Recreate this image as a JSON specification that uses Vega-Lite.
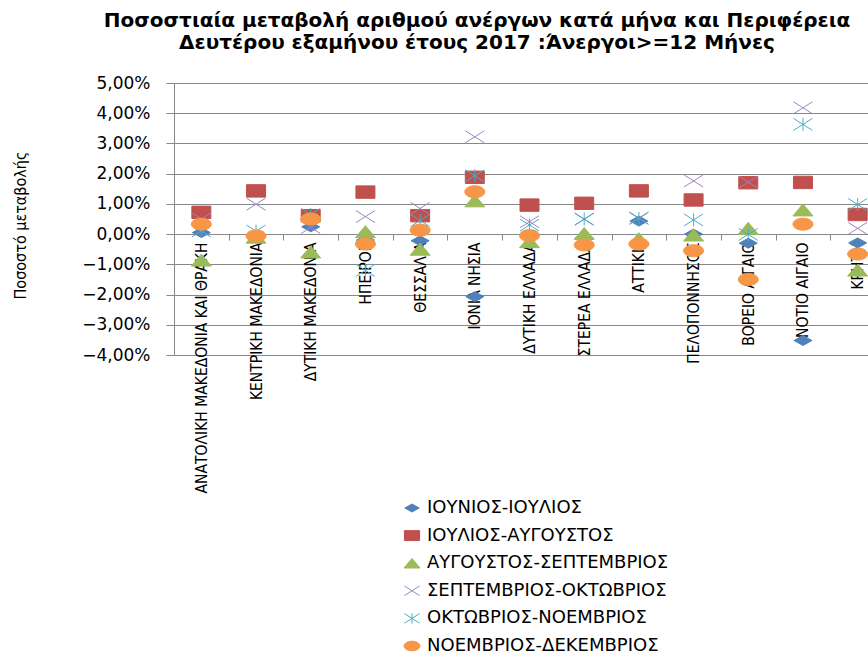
{
  "$schema": "https://vega.github.io/schema/vega-lite/v6.json",
  "autosize": "none",
  "padding": {"left": 174, "top": 83, "right": 0, "bottom": 300},
  "width": 694,
  "height": 272,
  "background": "white",
  "title": {
    "text": ["Ποσοστιαία μεταβολή αριθμού ανέργων κατά μήνα και Περιφέρεια", "Δευτέρου εξαμήνου έτους 2017 :Άνεργοι>=12 Μήνες"],
    "anchor": "middle",
    "frame": "group",
    "dx": -44,
    "dy": 9,
    "offset": 30,
    "font": "DejaVu Sans",
    "fontSize": 20,
    "fontWeight": "bold",
    "lineHeight": 22,
    "color": "black"
  },
  "data": {
    "values": [
      {"r": "ΑΝΑΤΟΛΙΚΗ ΜΑΚΕΔΟΝΙΑ ΚΑΙ ΘΡΑΚΗ", "s": "ΙΟΥΝΙΟΣ-ΙΟΥΛΙΟΣ", "v": 0.0005},
      {"r": "ΚΕΝΤΡΙΚΗ ΜΑΚΕΔΟΝΙΑ", "s": "ΙΟΥΝΙΟΣ-ΙΟΥΛΙΟΣ", "v": -0.0005},
      {"r": "ΔΥΤΙΚΗ ΜΑΚΕΔΟΝΙΑ", "s": "ΙΟΥΝΙΟΣ-ΙΟΥΛΙΟΣ", "v": 0.0024},
      {"r": "ΗΠΕΙΡΟΣ", "s": "ΙΟΥΝΙΟΣ-ΙΟΥΛΙΟΣ", "v": -0.0020},
      {"r": "ΘΕΣΣΑΛΙΑ", "s": "ΙΟΥΝΙΟΣ-ΙΟΥΛΙΟΣ", "v": -0.0022},
      {"r": "ΙΟΝΙΑ ΝΗΣΙΑ", "s": "ΙΟΥΝΙΟΣ-ΙΟΥΛΙΟΣ", "v": -0.0207},
      {"r": "ΔΥΤΙΚΗ ΕΛΛΑΔΑ", "s": "ΙΟΥΝΙΟΣ-ΙΟΥΛΙΟΣ", "v": -0.0010},
      {"r": "ΣΤΕΡΕΑ ΕΛΛΑΔΑ", "s": "ΙΟΥΝΙΟΣ-ΙΟΥΛΙΟΣ", "v": -0.0012},
      {"r": "ΑΤΤΙΚΗ", "s": "ΙΟΥΝΙΟΣ-ΙΟΥΛΙΟΣ", "v": 0.0043},
      {"r": "ΠΕΛΟΠΟΝΝΗΣΟΣ", "s": "ΙΟΥΝΙΟΣ-ΙΟΥΛΙΟΣ", "v": 0.0000},
      {"r": "ΒΟΡΕΙΟ ΑΙΓΑΙΟ", "s": "ΙΟΥΝΙΟΣ-ΙΟΥΛΙΟΣ", "v": -0.0030},
      {"r": "ΝΟΤΙΟ ΑΙΓΑΙΟ", "s": "ΙΟΥΝΙΟΣ-ΙΟΥΛΙΟΣ", "v": -0.0352},
      {"r": "ΚΡΗΤΗ", "s": "ΙΟΥΝΙΟΣ-ΙΟΥΛΙΟΣ", "v": -0.0029},

      {"r": "ΑΝΑΤΟΛΙΚΗ ΜΑΚΕΔΟΝΙΑ ΚΑΙ ΘΡΑΚΗ", "s": "ΙΟΥΛΙΟΣ-ΑΥΓΟΥΣΤΟΣ", "v": 0.0072},
      {"r": "ΚΕΝΤΡΙΚΗ ΜΑΚΕΔΟΝΙΑ", "s": "ΙΟΥΛΙΟΣ-ΑΥΓΟΥΣΤΟΣ", "v": 0.0143},
      {"r": "ΔΥΤΙΚΗ ΜΑΚΕΔΟΝΙΑ", "s": "ΙΟΥΛΙΟΣ-ΑΥΓΟΥΣΤΟΣ", "v": 0.0061},
      {"r": "ΗΠΕΙΡΟΣ", "s": "ΙΟΥΛΙΟΣ-ΑΥΓΟΥΣΤΟΣ", "v": 0.0139},
      {"r": "ΘΕΣΣΑΛΙΑ", "s": "ΙΟΥΛΙΟΣ-ΑΥΓΟΥΣΤΟΣ", "v": 0.0061},
      {"r": "ΙΟΝΙΑ ΝΗΣΙΑ", "s": "ΙΟΥΛΙΟΣ-ΑΥΓΟΥΣΤΟΣ", "v": 0.0188},
      {"r": "ΔΥΤΙΚΗ ΕΛΛΑΔΑ", "s": "ΙΟΥΛΙΟΣ-ΑΥΓΟΥΣΤΟΣ", "v": 0.0096},
      {"r": "ΣΤΕΡΕΑ ΕΛΛΑΔΑ", "s": "ΙΟΥΛΙΟΣ-ΑΥΓΟΥΣΤΟΣ", "v": 0.0102},
      {"r": "ΑΤΤΙΚΗ", "s": "ΙΟΥΛΙΟΣ-ΑΥΓΟΥΣΤΟΣ", "v": 0.0143},
      {"r": "ΠΕΛΟΠΟΝΝΗΣΟΣ", "s": "ΙΟΥΛΙΟΣ-ΑΥΓΟΥΣΤΟΣ", "v": 0.0113},
      {"r": "ΒΟΡΕΙΟ ΑΙΓΑΙΟ", "s": "ΙΟΥΛΙΟΣ-ΑΥΓΟΥΣΤΟΣ", "v": 0.0170},
      {"r": "ΝΟΤΙΟ ΑΙΓΑΙΟ", "s": "ΙΟΥΛΙΟΣ-ΑΥΓΟΥΣΤΟΣ", "v": 0.0171},
      {"r": "ΚΡΗΤΗ", "s": "ΙΟΥΛΙΟΣ-ΑΥΓΟΥΣΤΟΣ", "v": 0.0065},

      {"r": "ΑΝΑΤΟΛΙΚΗ ΜΑΚΕΔΟΝΙΑ ΚΑΙ ΘΡΑΚΗ", "s": "ΑΥΓΟΥΣΤΟΣ-ΣΕΠΤΕΜΒΡΙΟΣ", "v": -0.0086},
      {"r": "ΚΕΝΤΡΙΚΗ ΜΑΚΕΔΟΝΙΑ", "s": "ΑΥΓΟΥΣΤΟΣ-ΣΕΠΤΕΜΒΡΙΟΣ", "v": -0.0010},
      {"r": "ΔΥΤΙΚΗ ΜΑΚΕΔΟΝΙΑ", "s": "ΑΥΓΟΥΣΤΟΣ-ΣΕΠΤΕΜΒΡΙΟΣ", "v": -0.0059},
      {"r": "ΗΠΕΙΡΟΣ", "s": "ΑΥΓΟΥΣΤΟΣ-ΣΕΠΤΕΜΒΡΙΟΣ", "v": 0.0008},
      {"r": "ΘΕΣΣΑΛΙΑ", "s": "ΑΥΓΟΥΣΤΟΣ-ΣΕΠΤΕΜΒΡΙΟΣ", "v": -0.0050},
      {"r": "ΙΟΝΙΑ ΝΗΣΙΑ", "s": "ΑΥΓΟΥΣΤΟΣ-ΣΕΠΤΕΜΒΡΙΟΣ", "v": 0.0110},
      {"r": "ΔΥΤΙΚΗ ΕΛΛΑΔΑ", "s": "ΑΥΓΟΥΣΤΟΣ-ΣΕΠΤΕΜΒΡΙΟΣ", "v": -0.0025},
      {"r": "ΣΤΕΡΕΑ ΕΛΛΑΔΑ", "s": "ΑΥΓΟΥΣΤΟΣ-ΣΕΠΤΕΜΒΡΙΟΣ", "v": 0.0002},
      {"r": "ΑΤΤΙΚΗ", "s": "ΑΥΓΟΥΣΤΟΣ-ΣΕΠΤΕΜΒΡΙΟΣ", "v": -0.0015},
      {"r": "ΠΕΛΟΠΟΝΝΗΣΟΣ", "s": "ΑΥΓΟΥΣΤΟΣ-ΣΕΠΤΕΜΒΡΙΟΣ", "v": -0.0003},
      {"r": "ΒΟΡΕΙΟ ΑΙΓΑΙΟ", "s": "ΑΥΓΟΥΣΤΟΣ-ΣΕΠΤΕΜΒΡΙΟΣ", "v": 0.0019},
      {"r": "ΝΟΤΙΟ ΑΙΓΑΙΟ", "s": "ΑΥΓΟΥΣΤΟΣ-ΣΕΠΤΕΜΒΡΙΟΣ", "v": 0.0080},
      {"r": "ΚΡΗΤΗ", "s": "ΑΥΓΟΥΣΤΟΣ-ΣΕΠΤΕΜΒΡΙΟΣ", "v": -0.0119},

      {"r": "ΑΝΑΤΟΛΙΚΗ ΜΑΚΕΔΟΝΙΑ ΚΑΙ ΘΡΑΚΗ", "s": "ΣΕΠΤΕΜΒΡΙΟΣ-ΟΚΤΩΒΡΙΟΣ", "v": 0.0050},
      {"r": "ΚΕΝΤΡΙΚΗ ΜΑΚΕΔΟΝΙΑ", "s": "ΣΕΠΤΕΜΒΡΙΟΣ-ΟΚΤΩΒΡΙΟΣ", "v": 0.0099},
      {"r": "ΔΥΤΙΚΗ ΜΑΚΕΔΟΝΙΑ", "s": "ΣΕΠΤΕΜΒΡΙΟΣ-ΟΚΤΩΒΡΙΟΣ", "v": 0.0022},
      {"r": "ΗΠΕΙΡΟΣ", "s": "ΣΕΠΤΕΜΒΡΙΟΣ-ΟΚΤΩΒΡΙΟΣ", "v": 0.0058},
      {"r": "ΘΕΣΣΑΛΙΑ", "s": "ΣΕΠΤΕΜΒΡΙΟΣ-ΟΚΤΩΒΡΙΟΣ", "v": 0.0085},
      {"r": "ΙΟΝΙΑ ΝΗΣΙΑ", "s": "ΣΕΠΤΕΜΒΡΙΟΣ-ΟΚΤΩΒΡΙΟΣ", "v": 0.0322},
      {"r": "ΔΥΤΙΚΗ ΕΛΛΑΔΑ", "s": "ΣΕΠΤΕΜΒΡΙΟΣ-ΟΚΤΩΒΡΙΟΣ", "v": 0.0041},
      {"r": "ΣΤΕΡΕΑ ΕΛΛΑΔΑ", "s": "ΣΕΠΤΕΜΒΡΙΟΣ-ΟΚΤΩΒΡΙΟΣ", "v": 0.0049},
      {"r": "ΑΤΤΙΚΗ", "s": "ΣΕΠΤΕΜΒΡΙΟΣ-ΟΚΤΩΒΡΙΟΣ", "v": 0.0053},
      {"r": "ΠΕΛΟΠΟΝΝΗΣΟΣ", "s": "ΣΕΠΤΕΜΒΡΙΟΣ-ΟΚΤΩΒΡΙΟΣ", "v": 0.0176},
      {"r": "ΒΟΡΕΙΟ ΑΙΓΑΙΟ", "s": "ΣΕΠΤΕΜΒΡΙΟΣ-ΟΚΤΩΒΡΙΟΣ", "v": 0.0172},
      {"r": "ΝΟΤΙΟ ΑΙΓΑΙΟ", "s": "ΣΕΠΤΕΜΒΡΙΟΣ-ΟΚΤΩΒΡΙΟΣ", "v": 0.0418},
      {"r": "ΚΡΗΤΗ", "s": "ΣΕΠΤΕΜΒΡΙΟΣ-ΟΚΤΩΒΡΙΟΣ", "v": 0.0019},

      {"r": "ΑΝΑΤΟΛΙΚΗ ΜΑΚΕΔΟΝΙΑ ΚΑΙ ΘΡΑΚΗ", "s": "ΟΚΤΩΒΡΙΟΣ-ΝΟΕΜΒΡΙΟΣ", "v": 0.0010},
      {"r": "ΚΕΝΤΡΙΚΗ ΜΑΚΕΔΟΝΙΑ", "s": "ΟΚΤΩΒΡΙΟΣ-ΝΟΕΜΒΡΙΟΣ", "v": 0.0010},
      {"r": "ΔΥΤΙΚΗ ΜΑΚΕΔΟΝΙΑ", "s": "ΟΚΤΩΒΡΙΟΣ-ΝΟΕΜΒΡΙΟΣ", "v": 0.0065},
      {"r": "ΗΠΕΙΡΟΣ", "s": "ΟΚΤΩΒΡΙΟΣ-ΝΟΕΜΒΡΙΟΣ", "v": -0.0120},
      {"r": "ΘΕΣΣΑΛΙΑ", "s": "ΟΚΤΩΒΡΙΟΣ-ΝΟΕΜΒΡΙΟΣ", "v": 0.0045},
      {"r": "ΙΟΝΙΑ ΝΗΣΙΑ", "s": "ΟΚΤΩΒΡΙΟΣ-ΝΟΕΜΒΡΙΟΣ", "v": 0.0193},
      {"r": "ΔΥΤΙΚΗ ΕΛΛΑΔΑ", "s": "ΟΚΤΩΒΡΙΟΣ-ΝΟΕΜΒΡΙΟΣ", "v": 0.0030},
      {"r": "ΣΤΕΡΕΑ ΕΛΛΑΔΑ", "s": "ΟΚΤΩΒΡΙΟΣ-ΝΟΕΜΒΡΙΟΣ", "v": 0.0050},
      {"r": "ΑΤΤΙΚΗ", "s": "ΟΚΤΩΒΡΙΟΣ-ΝΟΕΜΒΡΙΟΣ", "v": 0.0052},
      {"r": "ΠΕΛΟΠΟΝΝΗΣΟΣ", "s": "ΟΚΤΩΒΡΙΟΣ-ΝΟΕΜΒΡΙΟΣ", "v": 0.0047},
      {"r": "ΒΟΡΕΙΟ ΑΙΓΑΙΟ", "s": "ΟΚΤΩΒΡΙΟΣ-ΝΟΕΜΒΡΙΟΣ", "v": -0.0001},
      {"r": "ΝΟΤΙΟ ΑΙΓΑΙΟ", "s": "ΟΚΤΩΒΡΙΟΣ-ΝΟΕΜΒΡΙΟΣ", "v": 0.0363},
      {"r": "ΚΡΗΤΗ", "s": "ΟΚΤΩΒΡΙΟΣ-ΝΟΕΜΒΡΙΟΣ", "v": 0.0098},

      {"r": "ΑΝΑΤΟΛΙΚΗ ΜΑΚΕΔΟΝΙΑ ΚΑΙ ΘΡΑΚΗ", "s": "ΝΟΕΜΒΡΙΟΣ-ΔΕΚΕΜΒΡΙΟΣ", "v": 0.0033},
      {"r": "ΚΕΝΤΡΙΚΗ ΜΑΚΕΔΟΝΙΑ", "s": "ΝΟΕΜΒΡΙΟΣ-ΔΕΚΕΜΒΡΙΟΣ", "v": -0.0006},
      {"r": "ΔΥΤΙΚΗ ΜΑΚΕΔΟΝΙΑ", "s": "ΝΟΕΜΒΡΙΟΣ-ΔΕΚΕΜΒΡΙΟΣ", "v": 0.0050},
      {"r": "ΗΠΕΙΡΟΣ", "s": "ΝΟΕΜΒΡΙΟΣ-ΔΕΚΕΜΒΡΙΟΣ", "v": -0.0033},
      {"r": "ΘΕΣΣΑΛΙΑ", "s": "ΝΟΕΜΒΡΙΟΣ-ΔΕΚΕΜΒΡΙΟΣ", "v": 0.0013},
      {"r": "ΙΟΝΙΑ ΝΗΣΙΑ", "s": "ΝΟΕΜΒΡΙΟΣ-ΔΕΚΕΜΒΡΙΟΣ", "v": 0.0140},
      {"r": "ΔΥΤΙΚΗ ΕΛΛΑΔΑ", "s": "ΝΟΕΜΒΡΙΟΣ-ΔΕΚΕΜΒΡΙΟΣ", "v": -0.0005},
      {"r": "ΣΤΕΡΕΑ ΕΛΛΑΔΑ", "s": "ΝΟΕΜΒΡΙΟΣ-ΔΕΚΕΜΒΡΙΟΣ", "v": -0.0036},
      {"r": "ΑΤΤΙΚΗ", "s": "ΝΟΕΜΒΡΙΟΣ-ΔΕΚΕΜΒΡΙΟΣ", "v": -0.0033},
      {"r": "ΠΕΛΟΠΟΝΝΗΣΟΣ", "s": "ΝΟΕΜΒΡΙΟΣ-ΔΕΚΕΜΒΡΙΟΣ", "v": -0.0055},
      {"r": "ΒΟΡΕΙΟ ΑΙΓΑΙΟ", "s": "ΝΟΕΜΒΡΙΟΣ-ΔΕΚΕΜΒΡΙΟΣ", "v": -0.0150},
      {"r": "ΝΟΤΙΟ ΑΙΓΑΙΟ", "s": "ΝΟΕΜΒΡΙΟΣ-ΔΕΚΕΜΒΡΙΟΣ", "v": 0.0033},
      {"r": "ΚΡΗΤΗ", "s": "ΝΟΕΜΒΡΙΟΣ-ΔΕΚΕΜΒΡΙΟΣ", "v": -0.0066}
    ]
  },
  "mark": {"type": "point", "size": 400, "strokeWidth": 1, "opacity": 1, "fillOpacity": 1, "strokeOpacity": 1},
  "encoding": {
    "x": {
      "field": "r",
      "type": "nominal",
      "sort": null,
      "scale": {"range": [0, 711], "paddingInner": 0, "paddingOuter": 0},
      "axis": {
        "title": null,
        "orient": "bottom",
        "offset": -121,
        "labelAngle": 270,
        "labelAlign": "right",
        "labelBaseline": "middle",
        "labelFont": "Liberation Sans Narrow, DejaVu Sans Condensed, sans-serif",
        "labelFontSize": 15.5,
        "labelColor": "black",
        "labelPadding": 2,
        "labelLimit": 400,
        "labelOverlap": false,
        "tickBand": "extent",
        "tickSize": 6,
        "tickColor": "#888888",
        "domainColor": "#888888",
        "grid": false
      }
    },
    "y": {
      "field": "v",
      "type": "quantitative",
      "scale": {"domain": [-0.04, 0.05], "nice": false, "zero": false},
      "axis": {
        "values": [-0.04, -0.03, -0.02, -0.01, 0, 0.01, 0.02, 0.03, 0.04, 0.05],
        "format": ".2%",
        "title": "Ποσοστό μεταβολής",
        "titleFont": "Liberation Sans Narrow, DejaVu Sans Condensed, sans-serif",
        "titleFontSize": 16,
        "titleFontWeight": "normal",
        "titleColor": "black",
        "titleX": -154,
        "titleY": 142,
        "titleAngle": 270,
        "titleAlign": "center",
        "titleBaseline": "middle",
        "labelFont": "DejaVu Sans",
        "labelFontSize": 17,
        "labelColor": "black",
        "labelPadding": 16,
        "labelOverlap": false,
        "tickSize": 8,
        "tickColor": "#888888",
        "domainColor": "#888888",
        "grid": true,
        "gridColor": "#888888",
        "gridWidth": 1
      }
    },
    "shape": {
      "field": "s",
      "type": "nominal",
      "sort": null,
      "scale": {
        "domain": ["ΙΟΥΝΙΟΣ-ΙΟΥΛΙΟΣ", "ΙΟΥΛΙΟΣ-ΑΥΓΟΥΣΤΟΣ", "ΑΥΓΟΥΣΤΟΣ-ΣΕΠΤΕΜΒΡΙΟΣ", "ΣΕΠΤΕΜΒΡΙΟΣ-ΟΚΤΩΒΡΙΟΣ", "ΟΚΤΩΒΡΙΟΣ-ΝΟΕΜΒΡΙΟΣ", "ΝΟΕΜΒΡΙΟΣ-ΔΕΚΕΜΒΡΙΟΣ"],
        "range": [
          "M-0.9,0L0,-0.5L0.9,0L0,0.5Z",
          "M-0.95,-0.62H0.95V0.62H-0.95Z",
          "M0,-0.6L1,0.6H-1Z",
          "M-0.95,-0.6L0.95,0.6M-0.95,0.6L0.95,-0.6",
          "M-0.95,-0.6L0.95,0.6M-0.95,0.6L0.95,-0.6M0,-0.65L0,0.65",
          "M-1,0A1,0.6,0,1,0,1,0A1,0.6,0,1,0,-1,0Z"
        ]
      },
      "legend": {
        "title": null,
        "orient": "none",
        "legendX": 229,
        "legendY": 416,
        "padding": 0,
        "symbolSize": 256,
        "symbolStrokeWidth": 1,
        "labelFont": "DejaVu Sans",
        "labelFontSize": 18,
        "labelColor": "black",
        "labelOffset": 6,
        "labelLimit": 500,
        "rowPadding": 9.6
      }
    },
    "fill": {
      "field": "s",
      "type": "nominal",
      "sort": null,
      "scale": {
        "domain": ["ΙΟΥΝΙΟΣ-ΙΟΥΛΙΟΣ", "ΙΟΥΛΙΟΣ-ΑΥΓΟΥΣΤΟΣ", "ΑΥΓΟΥΣΤΟΣ-ΣΕΠΤΕΜΒΡΙΟΣ", "ΣΕΠΤΕΜΒΡΙΟΣ-ΟΚΤΩΒΡΙΟΣ", "ΟΚΤΩΒΡΙΟΣ-ΝΟΕΜΒΡΙΟΣ", "ΝΟΕΜΒΡΙΟΣ-ΔΕΚΕΜΒΡΙΟΣ"],
        "range": ["#4F81BD", "#C0504D", "#9BBB59", "transparent", "transparent", "#F79646"]
      },
      "legend": {"title": null}
    },
    "stroke": {
      "field": "s",
      "type": "nominal",
      "sort": null,
      "scale": {
        "domain": ["ΙΟΥΝΙΟΣ-ΙΟΥΛΙΟΣ", "ΙΟΥΛΙΟΣ-ΑΥΓΟΥΣΤΟΣ", "ΑΥΓΟΥΣΤΟΣ-ΣΕΠΤΕΜΒΡΙΟΣ", "ΣΕΠΤΕΜΒΡΙΟΣ-ΟΚΤΩΒΡΙΟΣ", "ΟΚΤΩΒΡΙΟΣ-ΝΟΕΜΒΡΙΟΣ", "ΝΟΕΜΒΡΙΟΣ-ΔΕΚΕΜΒΡΙΟΣ"],
        "range": ["#4F81BD", "#C0504D", "#9BBB59", "#9B85BD", "#4BACC6", "#F79646"]
      },
      "legend": {"title": null}
    }
  },
  "config": {
    "view": {"stroke": null},
    "locale": {
      "number": {"decimal": ",", "thousands": ".", "grouping": [3], "currency": ["", " €"]}
    }
  }
}
